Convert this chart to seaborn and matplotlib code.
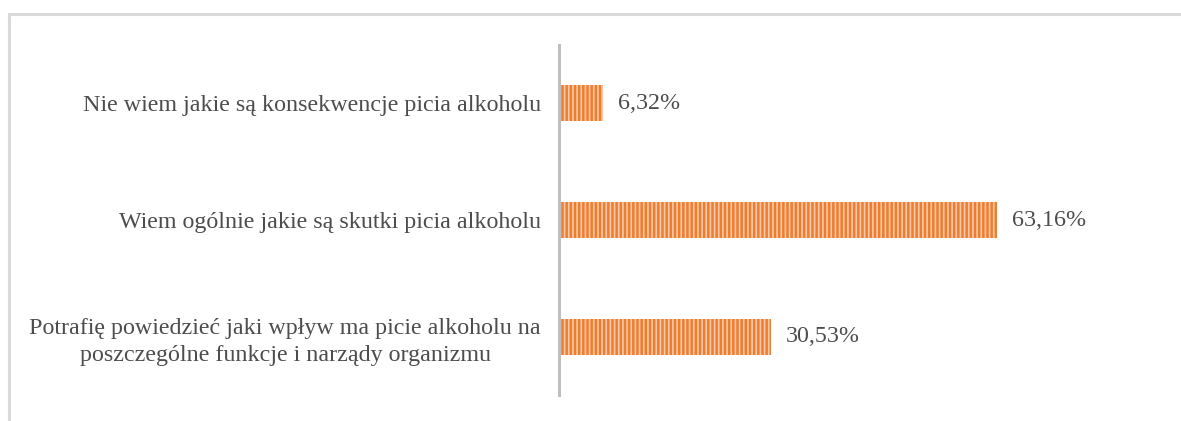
import matplotlib
matplotlib.use("Agg")
import matplotlib.pyplot as plt
from matplotlib.patches import Rectangle
import seaborn as sns
import pandas as pd

categories = [
    "Nie wiem jakie są konsekwencje picia alkoholu",
    "Wiem ogólnie jakie są skutki picia alkoholu",
    "Potrafię powiedzieć jaki wpływ ma picie alkoholu na\nposzczególne funkcje i narządy organizmu",
]
values = [6.32, 63.16, 30.53]
value_labels = ["6,32%", "63,16%", "30,53%"]

sns.set_theme(style="white")
plt.rcParams["font.family"] = ["Liberation Serif", "DejaVu Serif"]
plt.rcParams["hatch.linewidth"] = 1.2

df = pd.DataFrame({"category": categories, "value": values})

fig = plt.figure(figsize=(11.81, 4.21), dpi=100)
ax = fig.add_axes([559 / 1181, 1 - 395 / 421, (1044 - 559) / 1181, 350 / 421])

sns.barplot(data=df, x="value", y="category", orient="h", color="#ED7D31",
            width=0.31, saturation=1, ax=ax)

for bar in ax.patches:
    bar.set_facecolor("#ED7D31")
    bar.set_edgecolor("#F8C9A6")
    bar.set_linewidth(0)
    bar.set_hatch("||||")

ax.bar_label(ax.containers[0], labels=value_labels, padding=11,
             fontsize=17.3, color="#4D4D4D")

ax.set_xlim(0, 70)
ax.set_ylim(2.5, -0.5)
ax.set_xlabel("")
ax.set_ylabel("")
ax.set_xticks([])
ax.tick_params(axis="y", length=0, pad=13, labelsize=17.3, labelcolor="#4D4D4D")
for lbl in ax.get_yticklabels():
    lbl.set_multialignment("center")
    lbl.set_linespacing(1.35)

for side in ["top", "right", "bottom"]:
    ax.spines[side].set_visible(False)
ax.spines["left"].set_color("#BFBFBF")
ax.spines["left"].set_linewidth(2.2)

# light border around the chart area
fig.patches.append(Rectangle((9.5 / 1181, -0.2), 1.5, 1.2 - 13.5 / 421,
                             transform=fig.transFigure, fill=False,
                             edgecolor="#D9D9D9", linewidth=2.2, zorder=0))

fig.savefig("out.png", dpi=100, facecolor="white")
